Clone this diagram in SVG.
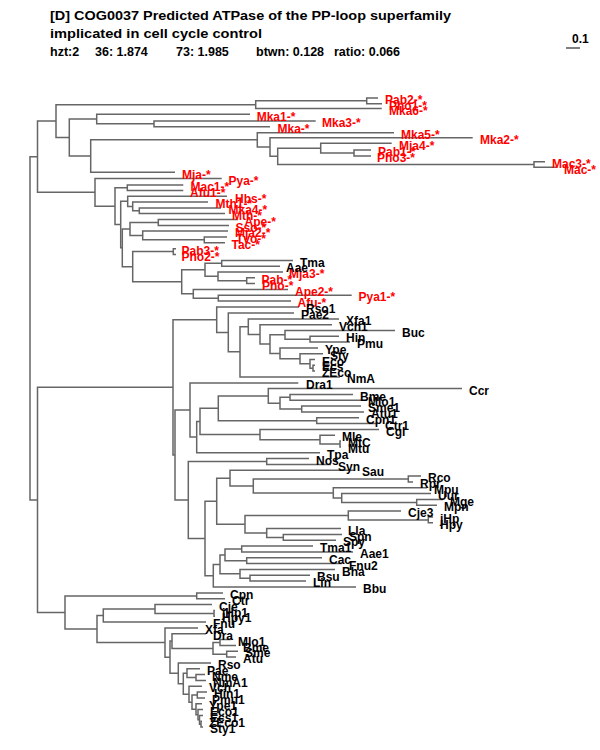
<svg xmlns="http://www.w3.org/2000/svg" width="600" height="750" viewBox="0 0 600 750">
<style>
.t{font-family:"Liberation Sans",Arial,Helvetica,sans-serif;font-weight:bold;font-size:13.5px;fill:#000}
.s{font-family:"Liberation Sans",Arial,Helvetica,sans-serif;font-weight:bold;font-size:12.5px;fill:#000}
.e path{fill:none;stroke:#666;stroke-width:1.5}
.r{font-family:"Liberation Sans",Arial,Helvetica,sans-serif;font-weight:bold;font-size:12px;fill:#f00}
.k{font-family:"Liberation Sans",Arial,Helvetica,sans-serif;font-weight:bold;font-size:12px;fill:#000}
</style>
<rect width="600" height="750" fill="#fff"/>
<g id="title">
<text class="t" x="50" y="20" textLength="401" lengthAdjust="spacingAndGlyphs">[D] COG0037 Predicted ATPase of the PP-loop superfamily</text>
<text class="t" x="50" y="38" textLength="212" lengthAdjust="spacingAndGlyphs">implicated in cell cycle control</text>
<text class="s" x="50" y="56">hzt:2</text>
<text class="s" x="95" y="56">36: 1.874</text>
<text class="s" x="176" y="56">73: 1.985</text>
<text class="s" x="256" y="56">btwn: 0.128</text>
<text class="s" x="334" y="56">ratio: 0.066</text>
</g>
<g id="scale">
<text class="s" x="572" y="43" style="font-size:12px">0.1</text>
<path d="M566 48H580" stroke="#000" stroke-width="1"/>
</g>
<g id="connectors" class="e">
<path d="M378 98H366.7V103.7H382"/>
<path d="M366.7 100.85H255.7V108.5H381.7"/>
<path d="M315.7 121H154V126.7H270"/>
<path d="M250 114.3H96.7V123.85H154"/>
<path d="M371 150H354V156H371"/>
<path d="M391.7 143.3H320.7V153H354"/>
<path d="M545 161.7H534V167.3H556.7"/>
<path d="M320.7 148.15H277.7V164.5H534"/>
<path d="M472.7 137.7H270V156.3H277.7"/>
<path d="M394 132.7H257.3V147H270"/>
<path d="M257.3 139.85H90.7V172.3H175"/>
<path d="M96.7 119.1H69.3V156H90.7"/>
<path d="M255.7 104.7H56V137.5H69.3"/>
<path d="M56 121.1H37.5V192.35H95"/>
<path d="M183.3 185H127.3V190.5H183.3"/>
<path d="M221 208H139.3V213.5H225"/>
<path d="M208 202H132.7V210.75H139.3"/>
<path d="M227 196.3H127.7V206.4H132.7"/>
<path d="M238 219.5H158.3V225.5H229"/>
<path d="M227 237H204.3V242.7H225"/>
<path d="M228 231H142.7V239.85H204.3"/>
<path d="M158.3 222.5H130V235.4H142.7"/>
<path d="M176 248.7H173.3V254.5H176"/>
<path d="M293 260.5H221.7V266.2H280"/>
<path d="M255 277.8H246.7V283.6H255"/>
<path d="M283 272H218V280.7H246.7"/>
<path d="M221.7 263.35H205V276.35H218"/>
<path d="M351.7 295.3H218.3V301H291"/>
<path d="M288 289.5H193.3V298.15H218.3"/>
<path d="M205 269.85H181.7V293.8H193.3"/>
<path d="M173.3 251.6H132.7V281.8H181.7"/>
<path d="M130 228.95H122.3V266.7H132.7"/>
<path d="M127.7 201.35H120.7V247.8H122.3"/>
<path d="M127.3 187.75H115V224.6H120.7"/>
<path d="M221.7 178.5H95V206.2H115"/>
<path d="M315 365.3H313V371H315"/>
<path d="M315 359.5H310V368.15H313"/>
<path d="M323 353.7H300V363.8H310"/>
<path d="M318 348H280V358.75H300"/>
<path d="M339 336.3H310V342H350"/>
<path d="M395 330.5H285V339.15H310"/>
<path d="M285 334.8H270V353.4H280"/>
<path d="M332 324.7H260V344.1H270"/>
<path d="M339 319H248.3V334.4H260"/>
<path d="M248.3 326.7H240V377H340"/>
<path d="M294 313H228.3V351.85H240"/>
<path d="M299 307H216.7V332.4H228.3"/>
<path d="M353 394.5H290V400.2H361"/>
<path d="M361 406H301.7V412H364"/>
<path d="M290 397.35H280V409H301.7"/>
<path d="M462 388.6H268.3V403.2H280"/>
<path d="M359 417.8H316.7V423.6H378"/>
<path d="M268.3 395.9H218.3V420.7H316.7"/>
<path d="M341 441.1H340V447H341"/>
<path d="M335 435.3H320V444H340"/>
<path d="M379 429.5H260V439.65H320"/>
<path d="M218.3 408.3H200V434.6H260"/>
<path d="M200 421.45H196.7V452.8H320"/>
<path d="M298.3 383H190V437.1H196.7"/>
<path d="M309 458.6H266.7V464.5H331"/>
<path d="M421 476.1H408.3V482H413"/>
<path d="M443 499.5H416.7V505.3H437"/>
<path d="M431 493.6H341.7V502.4H416.7"/>
<path d="M427 487.8H333.3V498H341.7"/>
<path d="M408.3 479.05H253.3V492.9H333.3"/>
<path d="M355 470.3H230V486H253.3"/>
<path d="M433 517H428.3V522.8H433"/>
<path d="M401 511.1H348.3V519.9H428.3"/>
<path d="M342 534.5H283.3V540.3H336"/>
<path d="M341 528.6H266.7V537.4H283.3"/>
<path d="M348.3 515.5H245V533H266.7"/>
<path d="M230 478.15H216.7V524.25H245"/>
<path d="M313 546.1H241.7V552H353"/>
<path d="M322 557.8H246.7V563.6H342"/>
<path d="M241.7 549.05H225V560.7H246.7"/>
<path d="M310 575.3H250V581.1H306"/>
<path d="M335 569.5H240V578.2H250"/>
<path d="M225 554.9H220V573.85H240"/>
<path d="M220 564.4H213.3V587H356"/>
<path d="M216.7 501.2H205V575.7H213.3"/>
<path d="M266.7 461.55H188.3V538.45H205"/>
<path d="M190 410.05H175V500H188.3"/>
<path d="M216.7 319.7H173V455H175"/>
<path d="M223 593H196.7V598.8H225"/>
<path d="M215 610.5H214V616.3H215"/>
<path d="M212 604.6H155V613.4H214"/>
<path d="M155 609H103.3V622.1H206"/>
<path d="M231 639.6H220V645.5H236"/>
<path d="M238 651.3H226.7V657.1H236"/>
<path d="M220 642.55H213V654.2H226.7"/>
<path d="M206 633.8H172V648.4H213"/>
<path d="M205 674.6H196V680.5H206"/>
<path d="M200 668.8H187V677.55H196"/>
<path d="M202 721.3H201V727.1H203"/>
<path d="M203 715.5H199.5V724.2H201"/>
<path d="M203 709.6H198V719.85H199.5"/>
<path d="M202 703.8H196V714.7H198"/>
<path d="M207 692.1H197.3V698H205"/>
<path d="M197.3 695.05H192V709.25H196"/>
<path d="M202 686.3H189V702.15H192"/>
<path d="M187 673.2H183.3V694.2H189"/>
<path d="M211 663H178.3V683.7H183.3"/>
<path d="M172 641.1H170V673.35H178.3"/>
<path d="M198 628H165V657.2H170"/>
<path d="M103.3 615.55H97V642.6H165"/>
<path d="M196.7 595.9H65V629.1H97"/>
<path d="M173 387.35H37.5V612.5H65"/>
<path d="M37.5 156.7H30V499.9H37.5"/>
</g>
<g id="labels-red">
<text class="r" x="385" y="104">Pab2-*</text>
<text class="r" x="389" y="110">Pho1-*</text>
<text class="r" x="389" y="115">Mka6-*</text>
<text class="r" x="256.7" y="121">Mka1-*</text>
<text class="r" x="322" y="127">Mka3-*</text>
<text class="r" x="277.5" y="133">Mka-*</text>
<text class="r" x="401" y="139">Mka5-*</text>
<text class="r" x="480" y="144">Mka2-*</text>
<text class="r" x="399" y="149.5">Mja4-*</text>
<text class="r" x="378" y="156">Pab1-*</text>
<text class="r" x="377" y="162">Pho3-*</text>
<text class="r" x="552" y="168">Mac3-*</text>
<text class="r" x="564" y="173.5">Mac-*</text>
<text class="r" x="182" y="178.5">Mja-*</text>
<text class="r" x="228.5" y="184.5">Pya-*</text>
<text class="r" x="190.5" y="191">Mac1-*</text>
<text class="r" x="190" y="196.5">Afu1-*</text>
<text class="r" x="235" y="202.5">Hbs-*</text>
<text class="r" x="215.5" y="208">Mth1-*</text>
<text class="r" x="228.5" y="214">Mka4-*</text>
<text class="r" x="232" y="219.5">Mth-*</text>
<text class="r" x="244.5" y="225.5">Ape-*</text>
<text class="r" x="235.5" y="231.5">Sso-*</text>
<text class="r" x="235" y="237">Mja2-*</text>
<text class="r" x="236" y="243">Tvo-*</text>
<text class="r" x="231.5" y="248.7">Tac-*</text>
<text class="r" x="181.5" y="254.7">Pab3-*</text>
<text class="r" x="181.5" y="260.5">Pho2-*</text>
<text class="r" x="289" y="278">Mja3-*</text>
<text class="r" x="261.5" y="283.8">Pab-*</text>
<text class="r" x="262" y="289.6">Pho-*</text>
<text class="r" x="295" y="295.5">Ape2-*</text>
<text class="r" x="358.5" y="301.3">Pya1-*</text>
<text class="r" x="297.5" y="307">Afu-*</text>
</g>
<g id="labels-black">
<text class="k" x="300" y="266.5">Tma</text>
<text class="k" x="286" y="272">Aae</text>
<text class="k" x="306" y="313">Rso1</text>
<text class="k" x="301" y="319">Pae2</text>
<text class="k" x="346" y="325">Xfa1</text>
<text class="k" x="339" y="330.7">Vch1</text>
<text class="k" x="402" y="336.5">Buc</text>
<text class="k" x="346" y="342.3">Hin</text>
<text class="k" x="357" y="348">Pmu</text>
<text class="k" x="325" y="354">Ype</text>
<text class="k" x="330" y="359.7">Sty</text>
<text class="k" x="322" y="365.5">Eco</text>
<text class="k" x="322" y="371.3">Ecs</text>
<text class="k" x="322" y="377">ZEco</text>
<text class="k" x="347" y="383">NmA</text>
<text class="k" x="306" y="389">Dra1</text>
<text class="k" x="469" y="394.6">Ccr</text>
<text class="k" x="360" y="400.5">Bme</text>
<text class="k" x="368" y="406.2">Mlo1</text>
<text class="k" x="368" y="412">Sme1</text>
<text class="k" x="371" y="418">Atu1</text>
<text class="k" x="366" y="423.8">Cpn1</text>
<text class="k" x="385" y="429.6">Ctr1</text>
<text class="k" x="386" y="435.5">Cgl</text>
<text class="k" x="342" y="441.3">Mle</text>
<text class="k" x="348" y="447.1">MtC</text>
<text class="k" x="348" y="453">Mtu</text>
<text class="k" x="327" y="458.8">Tpa</text>
<text class="k" x="316" y="464.6">Nos</text>
<text class="k" x="338" y="470.5">Syn</text>
<text class="k" x="362" y="476.3">Sau</text>
<text class="k" x="428" y="482.1">Rco</text>
<text class="k" x="420" y="488">Rpr</text>
<text class="k" x="434" y="493.8">Mpu</text>
<text class="k" x="438" y="499.6">Uur</text>
<text class="k" x="450" y="505.5">Mge</text>
<text class="k" x="444" y="511.3">Mpn</text>
<text class="k" x="408" y="517.1">Cje3</text>
<text class="k" x="440" y="523">jHp</text>
<text class="k" x="440" y="528.8">Hpy</text>
<text class="k" x="348" y="534.6">Lla</text>
<text class="k" x="349" y="540.5">Spn</text>
<text class="k" x="343" y="546.3">Spy</text>
<text class="k" x="320" y="552.1">Tma1</text>
<text class="k" x="360" y="558">Aae1</text>
<text class="k" x="329" y="563.8">Cac</text>
<text class="k" x="349" y="569.6">Fnu2</text>
<text class="k" x="342" y="575.5">Bha</text>
<text class="k" x="317" y="581.3">Bsu</text>
<text class="k" x="313" y="587.1">Lin</text>
<text class="k" x="363" y="593">Bbu</text>
<text class="k" x="230" y="599">Cpn</text>
<text class="k" x="232" y="604.8">Ctr</text>
<text class="k" x="219" y="610.6">Cje</text>
<text class="k" x="222" y="616.5">jHp1</text>
<text class="k" x="222" y="622.3">Hpy1</text>
<text class="k" x="213" y="628.1">Fnu</text>
<text class="k" x="205" y="634">Xfa</text>
<text class="k" x="213" y="639.8">Dra</text>
<text class="k" x="238" y="645.6">Mlo1</text>
<text class="k" x="243" y="651.5">Bme</text>
<text class="k" x="245" y="657.3">Sme</text>
<text class="k" x="243" y="663.1">Atu</text>
<text class="k" x="218" y="669">Rso</text>
<text class="k" x="207" y="674.8">Pae</text>
<text class="k" x="212" y="680.6">Nme</text>
<text class="k" x="213" y="686.5">NmA1</text>
<text class="k" x="209" y="692.3">Vch</text>
<text class="k" x="214" y="698.1">Hin1</text>
<text class="k" x="212" y="704">Pmu1</text>
<text class="k" x="209" y="709.8">Ype1</text>
<text class="k" x="210" y="715.6">Eco1</text>
<text class="k" x="210" y="721.5">Ecs1</text>
<text class="k" x="209" y="727.3">ZEco1</text>
<text class="k" x="210" y="733.1">Sty1</text>
</g>
</svg>
